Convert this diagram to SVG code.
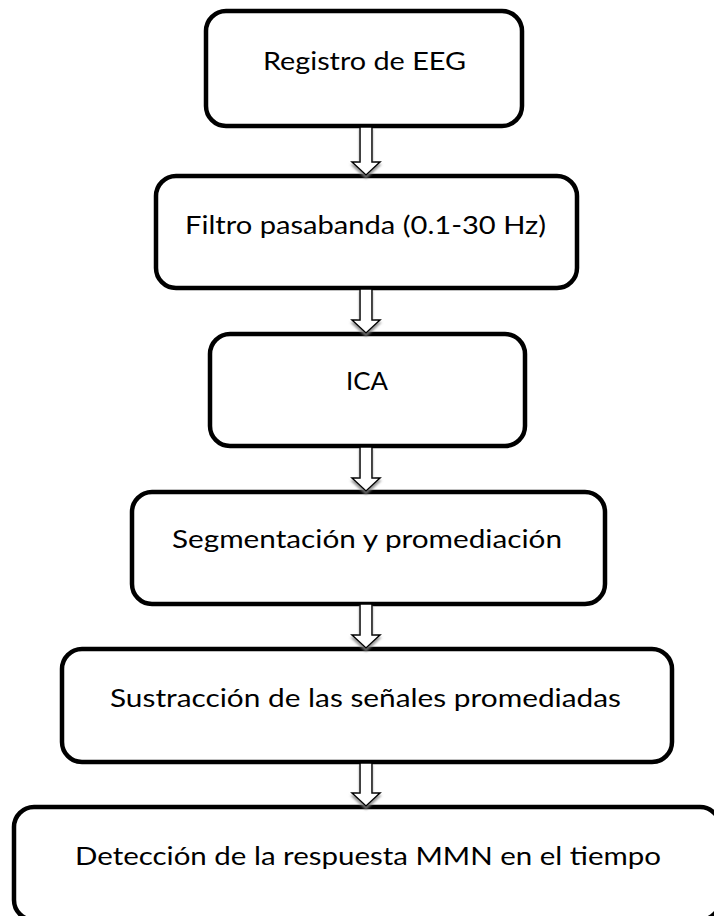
<svg xmlns="http://www.w3.org/2000/svg" width="714" height="916" viewBox="0 0 714 916">
<defs>
<style>
.box{fill:#fff;stroke:#000;stroke-width:4.5}
.lbl{font-family:Lato,"Open Sans","Liberation Sans",sans-serif;font-size:25px;fill:#000;text-anchor:middle}
.arr{fill:#fff;stroke:#000;stroke-width:1.5;stroke-linejoin:miter}
</style>
<filter id="sh" x="-50%" y="-50%" width="200%" height="200%">
<feGaussianBlur in="SourceAlpha" stdDeviation="1.2"/>
<feOffset dx="0" dy="2.5" result="b"/>
<feFlood flood-color="#808080" flood-opacity="0.8"/>
<feComposite in2="b" operator="in" result="s"/>
<feMerge><feMergeNode in="s"/><feMergeNode in="SourceGraphic"/></feMerge>
</filter>
</defs>
<rect width="714" height="916" fill="#fff"/>
<g id="n1"><rect class="box" x="206" y="11" width="316" height="115" rx="20"/><text class="lbl" x="364.5" y="70" textLength="203" lengthAdjust="spacingAndGlyphs">Registro de EEG</text></g>
<g id="n2"><rect class="box" x="156" y="176" width="421" height="112" rx="20"/><text class="lbl" x="365.5" y="234" textLength="361" lengthAdjust="spacingAndGlyphs">Filtro pasabanda (0.1-30 Hz)</text></g>
<g id="n3"><rect class="box" x="210" y="334" width="315" height="112" rx="20"/><text class="lbl" x="367" y="390" textLength="42" lengthAdjust="spacingAndGlyphs">ICA</text></g>
<g id="n4"><rect class="box" x="132" y="492" width="473" height="112" rx="20"/><text class="lbl" x="367" y="548" textLength="390" lengthAdjust="spacingAndGlyphs">Segmentación y promediación</text></g>
<g id="n5"><rect class="box" x="62" y="649" width="610" height="113" rx="20"/><text class="lbl" x="365.5" y="707" textLength="511" lengthAdjust="spacingAndGlyphs">Sustracción de las señales promediadas</text></g>
<g id="n6"><rect class="box" x="14" y="807" width="706" height="113" rx="20"/><text class="lbl" x="368" y="865" textLength="586" lengthAdjust="spacingAndGlyphs">Detección de la respuesta MMN en el tiempo</text></g>
<g id="connectors" filter="url(#sh)">
<polygon class="arr" points="360,127 372,127 372,162 380,162 366,175 352,162 360,162"/>
<polygon class="arr" points="360,289 372,289 372,320 380,320 366,333 352,320 360,320"/>
<polygon class="arr" points="360,447 372,447 372,478 380,478 366,491 352,478 360,478"/>
<polygon class="arr" points="360,604 372,604 372,635 380,635 366,648 352,635 360,635"/>
<polygon class="arr" points="360,763 372,763 372,793 380,793 366,806 352,793 360,793"/>
</g>
</svg>
